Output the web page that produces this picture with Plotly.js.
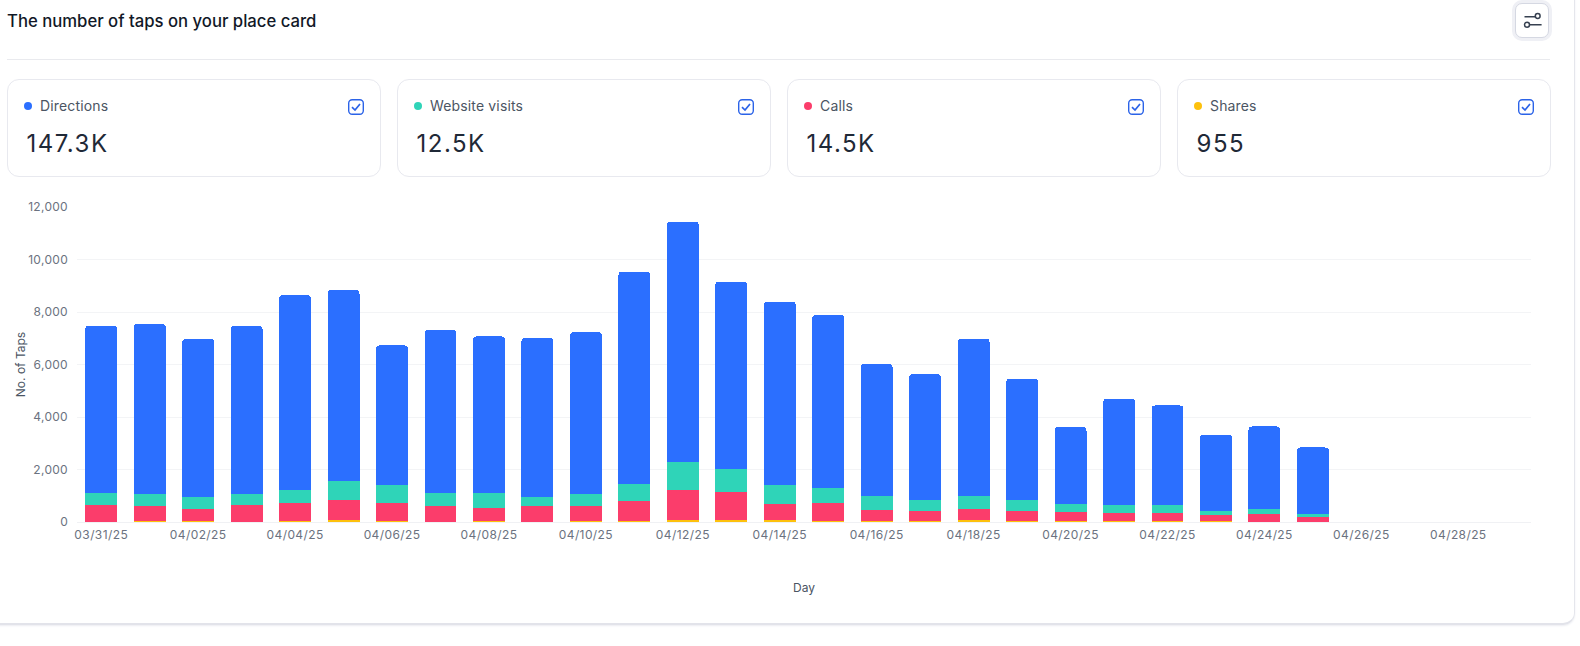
<!DOCTYPE html>
<html>
<head>
<meta charset="utf-8">
<title>The number of taps on your place card</title>
<script src="https://cdn.plot.ly/plotly-3.0.1.min.js"></script>
<style>
    html, body { margin: 0; padding: 0; background: #fff; font-family: Inter, sans-serif; }
    #page { position: relative; width: 1580px; height: 646px; overflow: hidden; }
    #panel { position: absolute; left: -20px; top: -20px; width: 1594px; height: 643px; border-radius: 12px;
             border-right: 1px solid #e5e6ec; border-bottom: 2px solid #e2e3ea; box-shadow: 0 1px 2px #ecedf2; }
    #chart { position: absolute; left: 0; top: 0; width: 1580px; height: 646px; }
    #chart .xtick text { letter-spacing: 0.4px; }
    #chart .ytick text { letter-spacing: 0.3px; }
    #divider { position: absolute; left: 7px; top: 59px; width: 1543px; height: 1px; background: #e9eaee; }
    .card { position: absolute; top: 79px; width: 372px; height: 96px; border: 1px solid #e8e9ef; border-radius: 12px; background: #fff; }
    .dot { position: absolute; left: 16px; top: 22px; width: 8px; height: 8px; border-radius: 50%; }
    .name { position: absolute; left: 32px; top: 17px; font-size: 14px; line-height: 18px; letter-spacing: 0.15px; color: #4b5563; }
    .num { position: absolute; left: 18.5px; top: 48px; font-size: 24px; line-height: 32px; letter-spacing: 1.5px; color: #1f2937; }
    .check { position: absolute; left: 340px; top: 19px; }
    #filter { position: absolute; left: 1515px; top: 3px; width: 34px; height: 35px; box-sizing: border-box; background: #fff;
              border: 1px solid #d5d8e2; border-radius: 7px; box-shadow: 0 0 0 3px #eff0f5; }
</style>
</head>
<body>
<div id="page">
    <div id="panel"></div>
    <div id="chart"></div>
    <div id="divider"></div>
    <div id="cards"></div>
    <div id="filter">
        <svg width="32" height="33" viewBox="0 0 32 33" fill="none" stroke="#374151" stroke-width="1.5">
            <path d="M8.5 12.7H19M14 20.7H25.6"/><circle cx="21.7" cy="12" r="2.4"/><circle cx="11" cy="20.8" r="2.5"/>
        </svg>
    </div>
</div>
<script>
var days = ['03/31/25', '04/01/25', '04/02/25', '04/03/25', '04/04/25', '04/05/25', '04/06/25', '04/07/25',
    '04/08/25', '04/09/25', '04/10/25', '04/11/25', '04/12/25', '04/13/25', '04/14/25', '04/15/25', '04/16/25',
    '04/17/25', '04/18/25', '04/19/25', '04/20/25', '04/21/25', '04/22/25', '04/23/25', '04/24/25', '04/25/25',
    '04/26/25', '04/27/25', '04/28/25', '04/29/25'];

// values, bottom of the stack first
var shares = [15, 30, 30, 15, 50, 90, 50, 15, 30, 15, 25, 25, 60, 60, 60, 30, 30, 20, 65, 30, 25, 20, 20, 20, 15, 10];
var calls = [622, 580, 480, 635, 676, 750, 676, 585, 505, 585, 575, 775, 1163, 1086, 628, 696, 430, 413, 432, 403, 357, 335, 324, 235, 278, 168];
var websiteVisits = [483, 470, 430, 430, 509, 710, 674, 508, 560, 355, 470, 665, 1057, 864, 712, 574, 535, 407, 483, 397, 293, 295, 306, 178, 217, 140];
var directions = [6360, 6470, 6040, 6400, 7415, 7290, 5330, 6212, 5975, 6055, 6170, 8075, 9160, 7150, 7000, 6590, 5025, 4800, 6010, 4630, 2945, 4050, 3790, 2897, 3130, 2522];

var cardNames = ['Directions', 'Website visits', 'Calls', 'Shares'];
var cardTotals = ['147.3K', '12.5K', '14.5K', '955'];
var cardColors = ['#2b6fff', '#2fd4b8', '#fb3d6b', '#fdc10d'];
var cardLefts = [7, 397, 787, 1177];

// summary cards above the chart
var cardsHtml = '';
for (var i = 0; i < cardNames.length; i++) {
    cardsHtml += '<div class="card" style="left:' + cardLefts[i] + 'px">' +
        '<span class="dot" style="background:' + cardColors[i] + '"></span>' +
        '<span class="name">' + cardNames[i] + '</span>' +
        '<span class="num">' + cardTotals[i] + '</span>' +
        '<svg class="check" width="16" height="16" viewBox="0 0 16 16" fill="none">' +
        '<rect x="0.7" y="0.7" width="14.6" height="14.6" rx="3.5" stroke="#2b63e8" stroke-width="1.4"/>' +
        '<path d="M4 8.2L7 11L12 5" stroke="#2b63e8" stroke-width="1.7"/></svg></div>';
}
document.getElementById('cards').innerHTML = cardsHtml;

function barTrace(name, values, color) {
    return {
        type: 'bar',
        name: name,
        x: days.slice(0, values.length),
        y: values,
        width: 0.66,
        marker: { color: color, line: { width: 0 } }
    };
}

var traces = [
    barTrace('Shares', shares, '#fdc10d'),
    barTrace('Calls', calls, '#fb3d6b'),
    barTrace('Website visits', websiteVisits, '#2fd4b8'),
    barTrace('Directions', directions, '#2b6fff')
];

var layout = {
    width: 1580,
    height: 646,
    barmode: 'stack',
    barcornerradius: 4,
    showlegend: false,
    paper_bgcolor: 'rgba(0,0,0,0)',
    plot_bgcolor: 'rgba(0,0,0,0)',
    font: { family: 'Inter, sans-serif', size: 12, color: '#6b7280' },
    margin: { l: 77, r: 49, t: 207, b: 124, pad: 0 },
    title: {
        text: 'The number of taps on your place card',
        font: { family: 'Inter, sans-serif', size: 16.7, weight: 500, color: '#111827' },
        x: 7 / 1580,
        xref: 'container',
        xanchor: 'left',
        y: 1 - 21 / 646,
        yref: 'container',
        yanchor: 'middle'
    },
    xaxis: {
        type: 'category',
        categoryorder: 'array',
        categoryarray: days,
        range: [-0.5, 29.5],
        tickmode: 'linear',
        tick0: 0,
        dtick: 2,
        ticks: '',
        showgrid: false,
        showline: false,
        zeroline: false,
        tickangle: 0,
        ticklabelstandoff: 4,
        tickfont: { size: 12, color: '#6b7280' },
        title: { text: 'Day', standoff: 42, font: { size: 12, color: '#4b5563' } }
    },
    yaxis: {
        range: [0, 12000],
        tickvals: [0, 2000, 4000, 6000, 8000, 10000, 12000],
        tickformat: ',d',
        ticks: '',
        gridcolor: '#f3f4f6',
        gridwidth: 1,
        zeroline: true,
        zerolinecolor: '#f0f1f4',
        showline: false,
        ticklabelstandoff: 8,
        tickfont: { size: 12, color: '#6b7280' },
        title: { text: 'No. of Taps', standoff: 1, font: { size: 12, color: '#4b5563' } }
    }
};

Plotly.newPlot('chart', traces, layout, { displayModeBar: false, staticPlot: true });
</script>
</body>
</html>
